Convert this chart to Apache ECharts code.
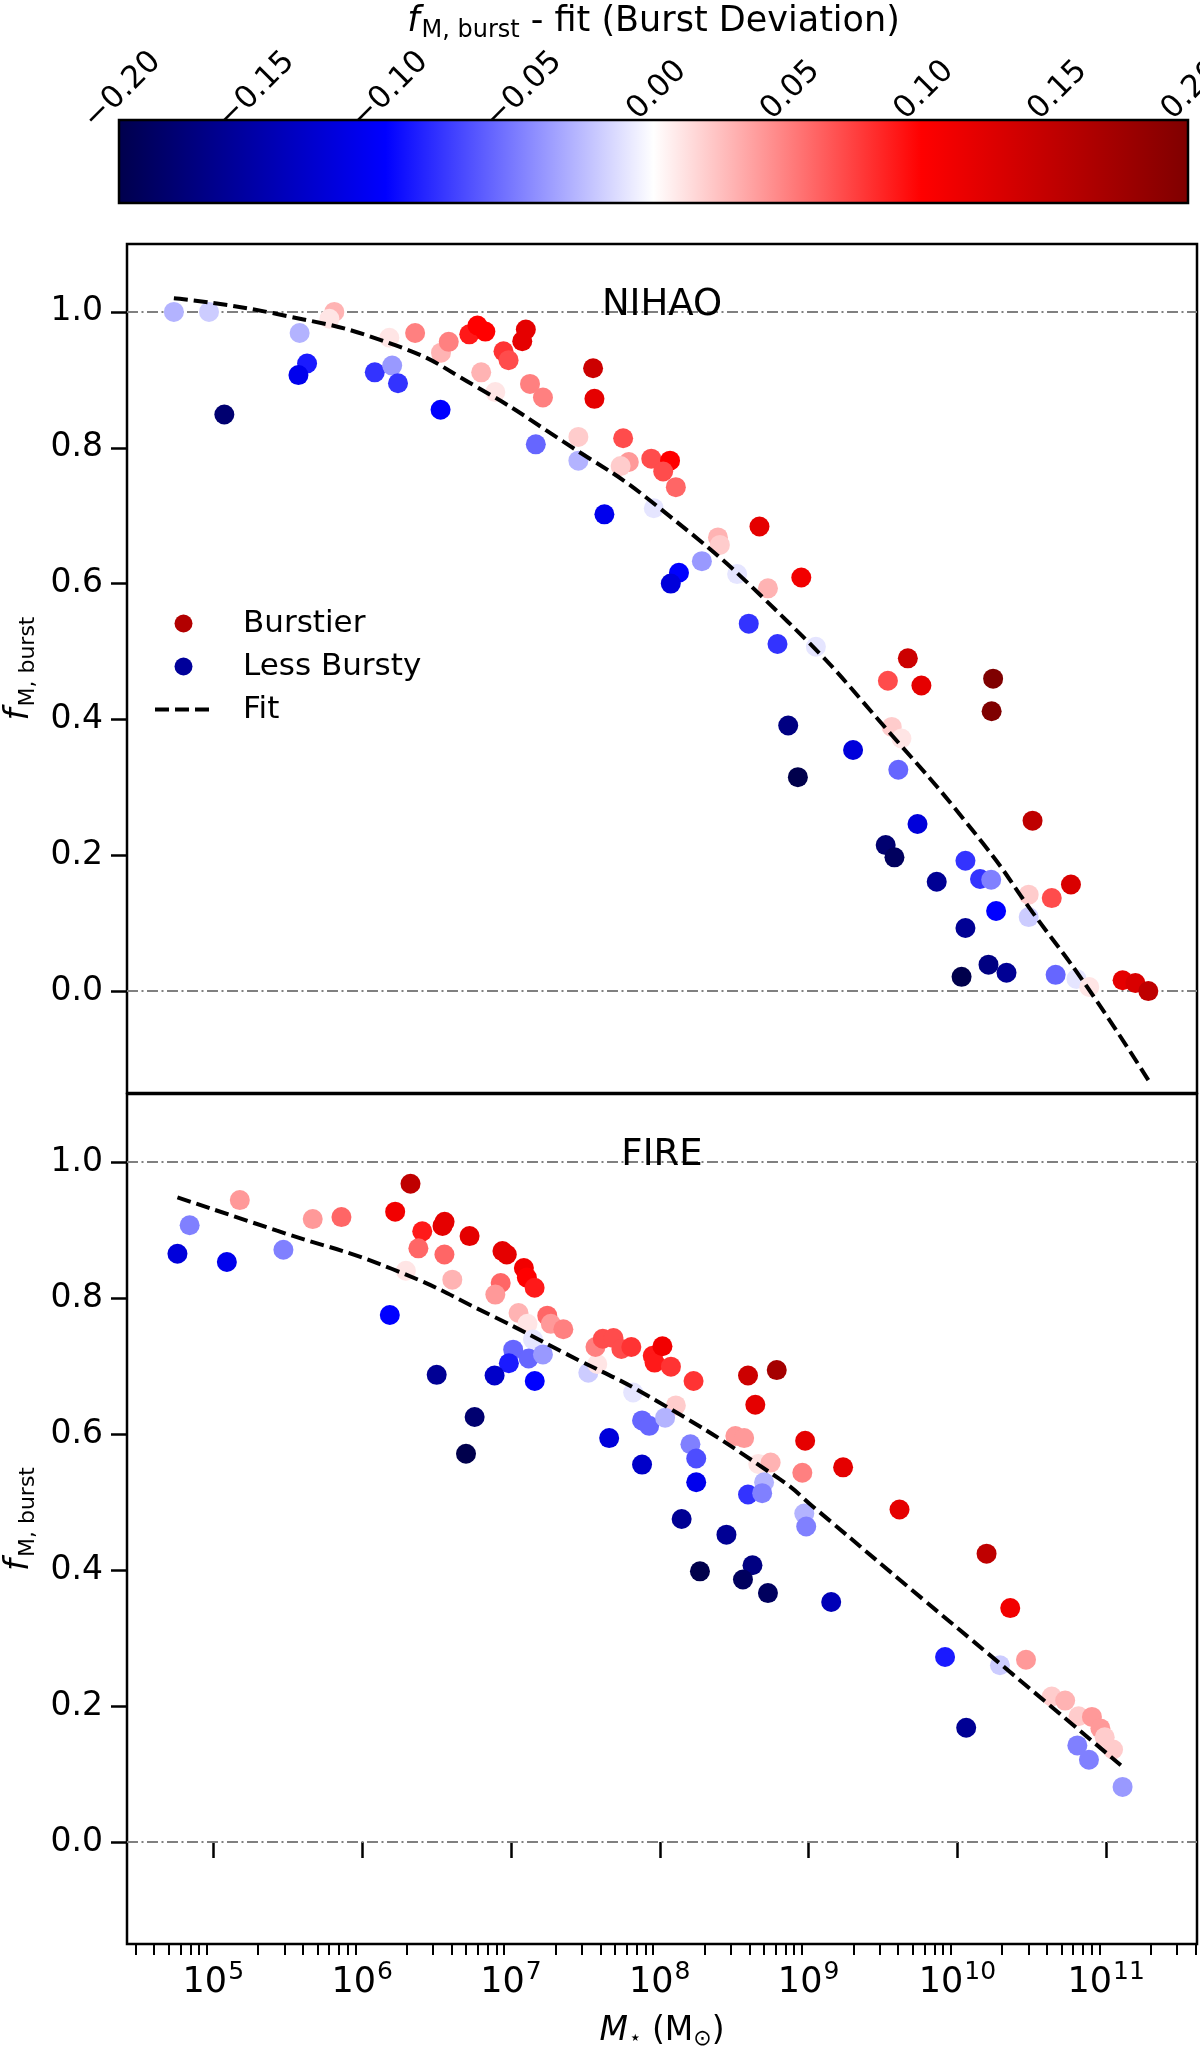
<!DOCTYPE html>
<html><head><meta charset="utf-8">
<script src="https://cdn.jsdelivr.net/npm/echarts@6/dist/echarts.min.js"></script>
<style>html,body{margin:0;padding:0;background:#fff}#c{width:1200px;height:2051px}</style>
</head><body><div id="c"></div>
<script>
const FONT = 'DejaVu Sans';
// seismic colormap stops
const cmapStops = ['#00004c', '#0000ff', '#ffffff', '#ff0000', '#7f0000'];
const cbarMin = -0.2, cbarMax = 0.2, cbarStep = 0.05;
const yTicks = [0, 0.2, 0.4, 0.6, 0.8, 1.0];
const xMajorExp = [5, 6, 7, 8, 9, 10, 11];
const minorMult = [2, 3, 4, 5, 6, 7, 8, 9];
const refLevels = [0, 1];
const xMin = 4.42, xMax = 11.61, yMin = -0.15, yMax = 1.1;

// NIHAO (x = log10 M*, y = f_M,burst, dev = f - fit)
const nihaoLogM = [4.735,4.971,5.813,5.78,5.580,5.630,5.572,5.074,6.085,6.202,6.241,6.527,6.183,6.356,6.530,6.582,6.720,6.775,6.828,6.800,6.950,6.984,7.100,7.076,6.895,7.128,7.215,7.552,7.561,7.167,7.453,7.453,7.628,7.960,7.754,7.792,7.737,7.943,8.069,8.023,8.108,8.670,8.391,8.404,8.283,8.129,8.074,8.520,8.727,8.951,8.598,8.791,9.049,9.667,9.533,9.758,10.240,10.230,8.863,8.928,9.299,9.559,9.624,9.603,9.732,9.518,9.577,9.861,10.054,10.152,10.227,10.260,10.054,10.028,10.209,10.330,10.505,10.479,10.634,10.763,10.479,10.660,10.800,10.886,11.110,11.196,11.283];
const nihaoF = [1.000,1.000,1.000,0.990,0.969,0.924,0.907,0.849,0.911,0.921,0.895,0.856,0.962,0.969,0.940,0.956,0.967,0.980,0.971,0.911,0.942,0.929,0.974,0.957,0.882,0.894,0.874,0.917,0.872,0.805,0.816,0.781,0.702,0.711,0.814,0.779,0.773,0.784,0.781,0.765,0.742,0.684,0.668,0.657,0.633,0.616,0.600,0.614,0.593,0.609,0.541,0.511,0.507,0.490,0.457,0.450,0.460,0.412,0.391,0.315,0.355,0.389,0.372,0.326,0.246,0.215,0.197,0.161,0.192,0.165,0.164,0.118,0.093,0.021,0.039,0.027,0.251,0.142,0.137,0.157,0.109,0.024,0.018,0.006,0.016,0.012,0.000];
const nihaoDev = [-0.03,-0.02,0.03,0.01,-0.03,-0.09,-0.11,-0.18,-0.08,-0.04,-0.08,-0.10,0.01,0.05,0.03,0.05,0.09,0.10,0.10,0.03,0.08,0.07,0.12,0.12,0.01,0.05,0.05,0.14,0.12,-0.06,0.02,-0.03,-0.11,-0.01,0.07,0.04,0.02,0.07,0.10,0.07,0.06,0.12,0.03,0.02,-0.04,-0.10,-0.12,-0.01,0.03,0.11,-0.08,-0.08,-0.01,0.14,0.07,0.12,0.20,0.20,-0.17,-0.20,-0.12,0.02,0.01,-0.06,-0.12,-0.18,-0.19,-0.16,-0.08,-0.08,-0.05,-0.10,-0.16,-0.20,-0.17,-0.16,0.15,0.02,0.07,0.13,-0.02,-0.06,-0.01,0.01,0.12,0.13,0.15];

// FIRE
const fireLogM = [4.759,4.841,5.091,5.178,5.471,5.668,5.861,6.325,6.222,6.404,6.378,6.554,6.540,6.553,6.722,6.606,6.294,6.943,6.972,6.931,6.895,7.087,7.107,7.159,7.051,7.111,7.244,7.268,7.352,7.148,7.015,6.986,7.119,7.215,7.160,6.890,6.501,6.186,6.756,6.698,7.520,7.580,7.568,7.617,7.689,7.742,7.809,7.821,7.881,7.929,7.660,7.881,7.953,7.965,8.018,8.075,8.227,8.593,8.786,8.642,8.108,8.036,8.206,8.245,8.245,8.508,8.567,8.662,8.745,8.701,8.593,8.688,8.977,8.958,9.232,9.611,8.971,8.984,8.147,8.448,8.270,8.623,8.559,8.727,9.152,10.196,10.355,9.917,10.286,10.461,10.059,10.634,10.724,10.814,10.904,10.961,10.990,11.046,10.806,10.884,11.110];
const fireF = [0.865,0.907,0.853,0.944,0.871,0.916,0.919,0.968,0.927,0.898,0.873,0.912,0.906,0.864,0.891,0.827,0.840,0.869,0.864,0.822,0.805,0.844,0.830,0.815,0.778,0.762,0.774,0.762,0.754,0.739,0.724,0.704,0.711,0.717,0.678,0.686,0.687,0.775,0.625,0.571,0.690,0.703,0.728,0.740,0.741,0.725,0.728,0.661,0.620,0.612,0.594,0.555,0.715,0.705,0.729,0.699,0.678,0.686,0.694,0.643,0.642,0.624,0.585,0.564,0.529,0.597,0.594,0.556,0.558,0.529,0.511,0.513,0.590,0.543,0.551,0.489,0.483,0.464,0.475,0.452,0.398,0.407,0.386,0.366,0.353,0.424,0.344,0.272,0.260,0.268,0.168,0.214,0.208,0.185,0.184,0.167,0.154,0.136,0.142,0.121,0.081];
const fireDev = [-0.12,-0.05,-0.11,0.04,-0.05,0.04,0.06,0.15,0.11,0.09,0.06,0.12,0.12,0.06,0.12,0.03,0.01,0.12,0.12,0.06,0.04,0.11,0.10,0.09,0.03,0.01,0.06,0.04,0.05,-0.01,-0.06,-0.09,-0.06,-0.04,-0.10,-0.13,-0.16,-0.10,-0.18,-0.20,-0.02,0.01,0.05,0.07,0.07,0.07,0.08,-0.01,-0.06,-0.06,-0.12,-0.13,0.09,0.09,0.11,0.08,0.08,0.14,0.17,0.12,0.02,-0.03,-0.05,-0.07,-0.11,0.04,0.04,0.01,0.03,-0.03,-0.08,-0.05,0.12,0.05,0.12,0.12,-0.03,-0.05,-0.16,-0.16,-0.20,-0.17,-0.19,-0.19,-0.14,0.15,0.11,-0.09,-0.02,0.04,-0.16,0.02,0.03,0.02,0.04,0.04,0.02,0.02,-0.05,-0.05,-0.04];

// Fit curves
const nihaoFitLogM = [4.735,5.428,6.222,6.751,7.352,7.977,8.855,9.551,10.170,10.505,10.866,11.283];
const nihaoFitF = [1.020,0.997,0.951,0.892,0.809,0.715,0.545,0.379,0.218,0.116,0.008,-0.131];
const fireFitLogM = [4.759,5.428,6.198,6.871,7.352,7.977,8.804,9.036,9.654,10.299,11.098];
const fireFitF = [0.948,0.899,0.843,0.774,0.720,0.649,0.534,0.492,0.378,0.260,0.113];

const burstierColor = '#b20000', lessBurstyColor = '#00009a';

const zip3 = (a, b, c) => a.map((v, i) => [v, b[i], c[i]]);
const zip2 = (a, b) => a.map((v, i) => [v, b[i]]);
const minorTicks = [];
for (let e = Math.floor(xMin); e <= Math.ceil(xMax); e++) {
  minorMult.forEach(k => { const v = e + Math.log10(k); if (v > xMin && v < xMax) minorTicks.push(v); });
}

const chart = echarts.init(document.getElementById('c'), null, {renderer: 'canvas'});
const gridBox = {show: true, borderColor: '#000', borderWidth: 2.5, backgroundColor: 'transparent', outerBoundsMode: 'none'};
const fLabelRich = {
  f: {fontSize: 34, fontStyle: 'italic', fontFamily: FONT, color: '#000'},
  s: {fontSize: 22, fontFamily: FONT, color: '#000', padding: [18, 0, 0, 2]}
};
const yAxisPanel = (gi) => ({
  gridIndex: gi, type: 'value', min: yMin, max: yMax,
  axisLine: {show: false}, splitLine: {show: false},
  axisTick: {show: true, customValues: yTicks, length: 16, lineStyle: {color: '#000', width: 2.5}},
  axisLabel: {show: true, customValues: yTicks, margin: 24, fontSize: 33, color: '#000', fontFamily: FONT,
    formatter: v => v.toFixed(1)},
  name: '{f|f}{s|M, burst}', nameLocation: 'middle', nameRotate: 90, nameGap: 86,
  nameTextStyle: {rich: fLabelRich}
});
const refLine = {
  silent: true, symbol: 'none', z: 1, animation: false,
  label: {show: false},
  lineStyle: {color: '#808080', width: 2, type: [11, 3.5, 2, 3.5]},
  data: refLevels.map(v => ({yAxis: v}))
};
const fitStyle = {color: '#000', width: 4, type: [14, 6]};

const option = {
  animation: false,
  textStyle: {fontFamily: FONT},
  title: [
    {text: 'NIHAO', left: 662, top: 287, textAlign: 'center', padding: 0,
     textStyle: {fontSize: 37, fontWeight: 'normal', color: '#000', fontFamily: FONT, lineHeight: 37}},
    {text: 'FIRE', left: 662, top: 1137, textAlign: 'center', padding: 0,
     textStyle: {fontSize: 37, fontWeight: 'normal', color: '#000', fontFamily: FONT, lineHeight: 37}}
  ],
  legend: {
    data: ['Burstier', 'Less Bursty', {name: 'Fit', itemStyle: {opacity: 0}}],
    orient: 'vertical', left: 153, top: 608, padding: 0,
    itemWidth: 57, itemHeight: 18, itemGap: 12,
    lineStyle: {width: 4},
    formatter: n => '{g|}' + n,
    textStyle: {fontSize: 31, color: '#000', fontFamily: FONT, rich: {g: {width: 26}}}
  },
  visualMap: {
    type: 'continuous', show: false, min: cbarMin, max: cbarMax, dimension: 2,
    seriesIndex: [1, 5], inRange: {color: cmapStops}
  },
  grid: [
    {left: 119, top: 120, width: 1069, height: 83, show: false, outerBoundsMode: 'none'},
    Object.assign({left: 127, top: 244, width: 1070, height: 849}, gridBox),
    Object.assign({left: 127, top: 1094, width: 1070, height: 850}, gridBox)
  ],
  xAxis: [
    {gridIndex: 0, type: 'value', min: cbarMin, max: cbarMax, interval: cbarStep, position: 'top',
     axisLine: {show: false}, splitLine: {show: false},
     axisTick: {show: true, length: 16, lineStyle: {color: '#000', width: 2}},
     axisLabel: {rotate: 45, align: 'center', verticalAlign: 'middle', margin: 26, padding: [6, 0, 0, 10],
       fontSize: 31, color: '#000', fontFamily: FONT,
       formatter: v => (v < -1e-9 ? '\u2212' : '') + Math.abs(v).toFixed(2)},
     name: '{f|f}{s|M, burst}{t| - fit (Burst Deviation)}', nameLocation: 'middle', nameGap: 76,
     nameTextStyle: {rich: {
       f: {fontSize: 35, fontStyle: 'italic', fontFamily: FONT, color: '#000'},
       s: {fontSize: 24, fontFamily: FONT, color: '#000', padding: [18, 0, 0, 2]},
       t: {fontSize: 35, fontFamily: FONT, color: '#000'}
     }}},
    {gridIndex: 1, type: 'value', min: xMin, max: xMax, show: false},
    {gridIndex: 2, type: 'value', min: xMin, max: xMax, position: 'bottom',
     axisLine: {show: false}, splitLine: {show: false},
     axisTick: {show: true, customValues: xMajorExp, length: 16, lineStyle: {color: '#000', width: 2.5}},
     axisLabel: {show: true, customValues: xMajorExp, margin: 16, color: '#000',
       formatter: v => '{b|10}{p|' + Math.round(v) + '}',
       rich: {
         b: {fontSize: 35, fontFamily: FONT, color: '#000'},
         p: {fontSize: 25, fontFamily: FONT, color: '#000', padding: [0, 0, 20, 1]}
       }},
     name: '{m|M}{s|\u22c6}{n| (M}{o|\u2299}{n|)}', nameLocation: 'middle', nameGap: 68,
     nameTextStyle: {rich: {
       m: {fontSize: 33, fontStyle: 'italic', fontFamily: FONT, color: '#000'},
       s: {fontSize: 20, fontFamily: FONT, color: '#000', padding: [16, 0, 0, 1]},
       n: {fontSize: 33, fontFamily: FONT, color: '#000'},
       o: {fontSize: 22, fontFamily: FONT, color: '#000', padding: [16, 0, 0, 0]}
     }}},
    {gridIndex: 2, type: 'value', min: xMin, max: xMax, position: 'bottom',
     axisLine: {show: false}, splitLine: {show: false}, axisLabel: {show: false},
     axisTick: {show: true, customValues: minorTicks, length: 11, lineStyle: {color: '#000', width: 2}}}
  ],
  yAxis: [
    {gridIndex: 0, type: 'value', min: 0, max: 1, show: false},
    yAxisPanel(1),
    yAxisPanel(2)
  ],
  series: [
    {type: 'custom', xAxisIndex: 0, yAxisIndex: 0, silent: true,
     data: [[cbarMin, cbarMax]], encode: {x: [0, 1]},
     renderItem: (params, api) => {
       const p0 = api.coord([api.value(0), 1]);
       const p1 = api.coord([api.value(1), 0]);
       return {type: 'rect', shape: {x: p0[0], y: p0[1], width: p1[0] - p0[0], height: p1[1] - p0[1]},
         style: {fill: new echarts.graphic.LinearGradient(0, 0, 1, 0,
           cmapStops.map((c, i) => ({offset: i / (cmapStops.length - 1), color: c}))),
           stroke: '#000', lineWidth: 2.5}};
     }},
    {type: 'scatter', name: 'NIHAO', xAxisIndex: 1, yAxisIndex: 1, symbolSize: 20, z: 2,
     itemStyle: {opacity: 1},
     data: zip3(nihaoLogM, nihaoF, nihaoDev), markLine: refLine},
    {type: 'line', name: 'Fit', xAxisIndex: 1, yAxisIndex: 1, smooth: true, symbol: 'none', z: 3,
     data: zip2(nihaoFitLogM, nihaoFitF), lineStyle: fitStyle, itemStyle: {color: '#000'}},
    {type: 'scatter', name: 'Burstier', xAxisIndex: 1, yAxisIndex: 1, data: [], itemStyle: {color: burstierColor, opacity: 1}},
    {type: 'scatter', name: 'Less Bursty', xAxisIndex: 1, yAxisIndex: 1, data: [], itemStyle: {color: lessBurstyColor, opacity: 1}},
    {type: 'scatter', name: 'FIRE', xAxisIndex: 2, yAxisIndex: 2, symbolSize: 20, z: 2,
     itemStyle: {opacity: 1},
     data: zip3(fireLogM, fireF, fireDev), markLine: refLine},
    {type: 'line', name: 'FIRE fit', xAxisIndex: 2, yAxisIndex: 2, smooth: true, symbol: 'none', z: 3,
     data: zip2(fireFitLogM, fireFitF), lineStyle: fitStyle}
  ]
};
chart.setOption(option);
</script></body></html>
